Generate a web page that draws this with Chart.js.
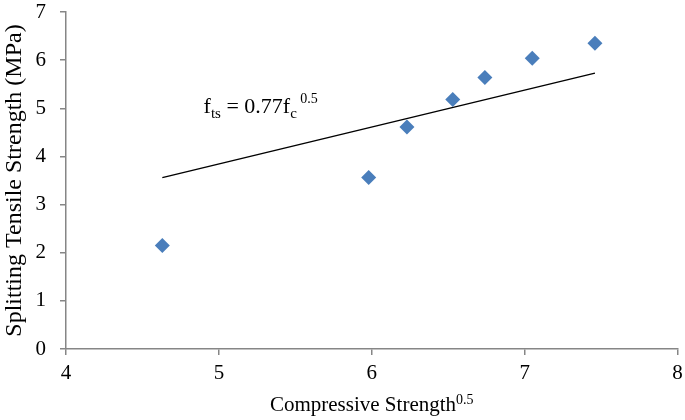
<!DOCTYPE html>
<html>
<head>
<meta charset="utf-8">
<script src="https://cdn.jsdelivr.net/npm/chart.js@4"></script>
<style>
  html, body { margin: 0; padding: 0; background: #fff; }
  #wrap { width: 685px; height: 420px; }
</style>
</head>
<body>
<div id="wrap"><canvas id="scatterChart" width="685" height="420"></canvas></div>
<script>
// measured points (sqrt of compressive strength vs splitting tensile strength)
var sqrtFc = [4.63, 5.98, 6.23, 6.53, 6.74, 7.05, 7.46];
var fts = [2.15, 3.56, 4.61, 5.18, 5.64, 6.04, 6.35];

// trend line ends
var trendX = [4.63, 7.46];
var trendY = [3.56, 5.73];

var xTicks = [4, 5, 6, 7, 8];
var yTicks = [0, 1, 2, 3, 4, 5, 6, 7];

var serif = "'Liberation Serif', 'Times New Roman', serif";
var axisGrey = '#868686';

// draws the equation label and the x title with its superscript
var textPlugin = {
    id: 'textPlugin',
    afterDraw: function(chart) {
        var ctx = chart.ctx;
        var xs = chart.scales.x;
        var ys = chart.scales.y;
        ctx.save();
        ctx.fillStyle = '#000';
        ctx.textBaseline = 'alphabetic';
        ctx.textAlign = 'left';

        // equation
        var px = xs.getPixelForValue(4.9);
        var py = ys.getPixelForValue(4.91);
        var parts = [
            { t: 'f', size: 22, dy: 0 },
            { t: 'ts', size: 15, dy: 5 },
            { t: ' = 0.77f', size: 22, dy: 0 },
            { t: 'c', size: 15, dy: 5 },
            { t: ' 0.5', size: 14, dy: -10 }
        ];
        parts.forEach(function(p) {
            ctx.font = p.size + 'px ' + serif;
            ctx.fillText(p.t, px, py + p.dy);
            px += ctx.measureText(p.t).width;
        });

        // x axis title
        ctx.font = '21px ' + serif;
        var main = 'Compressive Strength';
        var w1 = ctx.measureText(main).width;
        ctx.font = '14px ' + serif;
        var w2 = ctx.measureText('0.5').width;
        var cx = (chart.chartArea.left + chart.chartArea.right) / 2;
        var sx = cx - (w1 + w2) / 2;
        var by = 411;
        ctx.font = '21px ' + serif;
        ctx.fillText(main, sx, by);
        ctx.font = '14px ' + serif;
        ctx.fillText('0.5', sx + w1, by - 7);
        ctx.restore();
    }
};

new Chart(document.getElementById('scatterChart'), {
    type: 'scatter',
    data: {
        datasets: [
            {
                label: 'Data',
                data: sqrtFc.map(function(x, i) { return { x: x, y: fts[i] }; }),
                pointStyle: 'rectRot',
                pointRadius: 7.5,
                pointHoverRadius: 7.5,
                backgroundColor: '#4a7ebb',
                borderColor: '#4a7ebb',
                borderWidth: 0
            },
            {
                label: 'Trend',
                type: 'line',
                data: trendX.map(function(x, i) { return { x: x, y: trendY[i] }; }),
                borderColor: '#000',
                borderWidth: 1.5,
                pointRadius: 0,
                fill: false
            }
        ]
    },
    options: {
        responsive: false,
        animation: false,
        layout: { padding: { top: 12, right: 5, left: 0, bottom: 0 } },
        plugins: {
            legend: { display: false },
            tooltip: { enabled: false }
        },
        scales: {
            x: {
                type: 'linear',
                min: 4,
                max: 8,
                afterBuildTicks: function(axis) {
                    axis.ticks = xTicks.map(function(v) { return { value: v }; });
                },
                afterFit: function(axis) {
                    axis.height = 71;
                    axis.paddingLeft = 0;
                    axis.paddingRight = 0;
                },
                border: { color: axisGrey, width: 1.5 },
                grid: { drawOnChartArea: false, color: axisGrey, tickLength: 6, lineWidth: 1.5 },
                ticks: {
                    color: '#000',
                    font: { family: serif, size: 21 },
                    padding: 6,
                    maxRotation: 0
                },
                title: { display: false }
            },
            y: {
                type: 'linear',
                min: 0,
                max: 7,
                afterBuildTicks: function(axis) {
                    axis.ticks = yTicks.map(function(v) { return { value: v }; });
                },
                afterFit: function(axis) {
                    axis.width = 66;
                    axis.paddingTop = 0;
                    axis.paddingBottom = 0;
                },
                border: { color: axisGrey, width: 1.5 },
                grid: { drawOnChartArea: false, color: axisGrey, tickLength: 6, lineWidth: 1.5 },
                ticks: {
                    color: '#000',
                    font: { family: serif, size: 21 },
                    padding: 14
                },
                title: {
                    display: true,
                    text: 'Splitting Tensile Strength (MPa)',
                    color: '#000',
                    font: { family: serif, size: 24 },
                    padding: { top: 0, bottom: 0 }
                }
            }
        }
    },
    plugins: [textPlugin]
});
</script>
</body>
</html>
